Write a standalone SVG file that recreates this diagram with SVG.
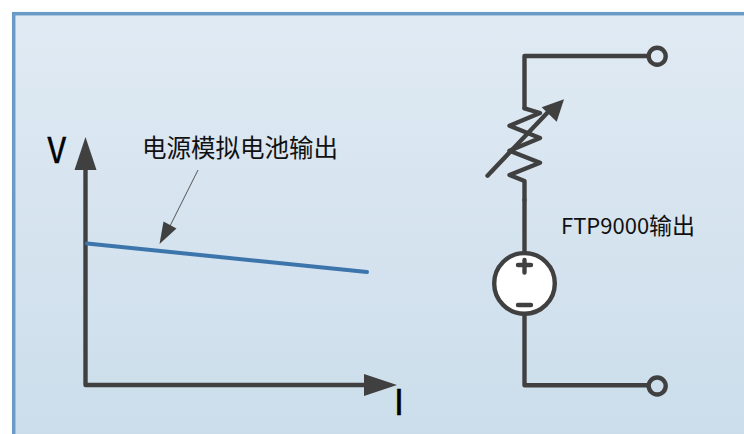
<svg xmlns="http://www.w3.org/2000/svg" width="744" height="434" viewBox="0 0 744 434">
<style>
.w{fill:none;stroke:#404040;stroke-width:4.400;stroke-linecap:round;stroke-linejoin:round}
.h{fill:#404040;stroke:none}
.t{font-family:"Noto Sans CJK SC","Noto Sans",sans-serif;fill:#111}
</style>
<defs><linearGradient id="bg" x1="0" y1="0" x2="0" y2="1"><stop offset="0" stop-color="#e0eaf3"/><stop offset="1" stop-color="#cbddeb"/></linearGradient></defs>
<rect x="0" y="0" width="744" height="434" fill="#fff"/>
<rect id="panel" x="13.700" y="13.700" width="740" height="430" fill="url(#bg)" stroke="#6a9bc6" stroke-width="3.500"/>
<g id="connectors">
<path class="w" d="M85.500 168V385H366"/>
<polygon class="h" points="85.500,137 96.500,170 74.500,170"/>
<polygon class="h" points="397,385 364,374 364,396"/>
<path d="M87 243.500L367 272" fill="none" stroke="#3c75ab" stroke-width="4" stroke-linecap="round"/>
<path d="M198 170L170 226" fill="none" stroke="#555" stroke-width="1"/>
<polygon points="159.500,244 163.500,221.500 176.500,228.500" fill="#404040"/>
<path class="w" d="M524.500 254V200"/>
<path class="w" d="M524.500 108V56H648"/>
<path class="w" d="M524.500 316V385.300H648"/>
<path class="w" d="M524.500 108.300L540 113L509.500 125.700L540 138L509.500 150.700L540 162.700L509.500 175L524.500 181V200"/>
<path class="w" d="M487.500 175.700L549 111"/>
<polygon class="h" points="564,99.300 556.700,121.700 541.700,107.300"/>
</g>
<g id="source">
<circle cx="524.500" cy="283.400" r="30.300" fill="#fff" stroke="#404040" stroke-width="4.400"/>
<path class="w" d="M518 265H531M524.500 260V272.500M518 305H531"/>
</g>
<g id="terminal-top"><circle cx="657.200" cy="56.300" r="8.500" fill="#dde8f2" stroke="#404040" stroke-width="4.400"/></g>
<g id="terminal-bottom"><circle cx="657.200" cy="386" r="8.500" fill="#ccdeec" stroke="#404040" stroke-width="4.400"/></g>
<text class="t" x="47.500" y="163.300" font-size="35.500" textLength="18.500" lengthAdjust="spacingAndGlyphs" style="fill:#000;stroke:#000;stroke-width:.5">V</text>
<text class="t" x="393.800" y="415" font-size="35.500" style="fill:#000;stroke:#000;stroke-width:.5">I</text>
<text class="t" x="142" y="157" font-size="24.500">电源模拟电池输出</text>
<text class="t" x="561" y="234"><tspan font-size="22">FTP9000</tspan><tspan font-size="23">输出</tspan></text>
</svg>
